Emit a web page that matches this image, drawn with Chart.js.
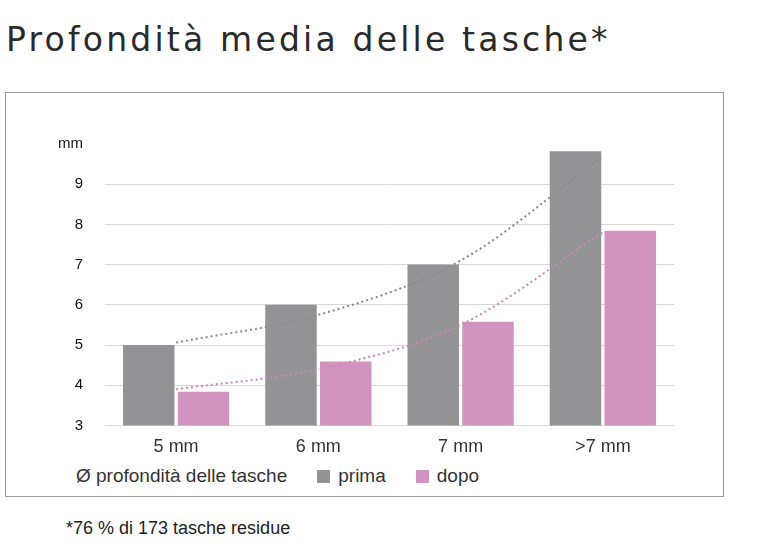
<!DOCTYPE html>
<html lang="it">
<head>
<meta charset="UTF-8" />
<title>Profondità media delle tasche</title>
<script src="https://cdn.jsdelivr.net/npm/chart.js"></script>
<style>
  body { margin: 0; width: 784px; height: 550px; background: #fff; font-family: "Liberation Sans", Arial, sans-serif; position: relative; }
  h1 { position: absolute; left: 6px; top: 20px; margin: 0; font-size: 33px; letter-spacing: 3.2px; color: #2a2a2a; font-family: "DejaVu Sans", sans-serif; font-weight: normal; }
  #box { position: absolute; left: 5px; top: 92px; width: 717px; height: 403px; border: 1px solid #999; }
  #wrap { position: absolute; left: 30px; top: 20px; width: 638px; height: 348px; }
  #legend { position: absolute; left: 70px; top: 372px; font-size: 19px; color: #333; }
  #legend span.sw { display: inline-block; width: 13px; height: 13px; margin: 0 8px 0 30px; vertical-align: -1px; }
  #note { position: absolute; left: 66px; top: 518px; font-size: 18px; color: #222; }
</style>
</head>
<body>
<h1>Profondità media delle tasche*</h1>
<div id="box">
  <div id="wrap"><canvas id="grafica"></canvas></div>
  <div id="legend">Ø profondità delle tasche<span class="sw" style="background:#939396"></span>prima<span class="sw" style="background:#d193bf"></span>dopo</div>
</div>
<div id="note">*76 % di 173 tasche residue</div>
<script>
  const categorie = ["5 mm", "6 mm", "7 mm", ">7 mm"];
  const prima = [5.0, 6.0, 7.0, 9.82];
  const dopo = [3.84, 4.59, 5.58, 7.84];
  const tendenzaPrima = [5.06, 5.75, 7.1, 9.7];
  const tendenzaDopo = [3.9, 4.4, 5.5, 7.8];
  const tickY = [3, 4, 5, 6, 7, 8, 9, 10];

  new Chart(document.getElementById("grafica"), {
    data: {
      labels: categorie,
      datasets: [
        { type: "line", data: tendenzaPrima, borderColor: "#8a8a8c", borderDash: [2, 3], borderWidth: 2, pointRadius: 0, cubicInterpolationMode: "monotone", order: 0 },
        { type: "line", data: tendenzaDopo, borderColor: "#cf86b8", borderDash: [2, 3], borderWidth: 2, pointRadius: 0, cubicInterpolationMode: "monotone", order: 0 },
        { type: "bar", label: "prima", data: prima, backgroundColor: "#939396", categoryPercentage: 0.77, barPercentage: 0.94, order: 1 },
        { type: "bar", label: "dopo", data: dopo, backgroundColor: "#d193bf", categoryPercentage: 0.77, barPercentage: 0.94, order: 1 }
      ]
    },
    options: {
      responsive: true,
      maintainAspectRatio: false,
      animation: false,
      layout: { padding: { top: 4 } },
      plugins: { legend: { display: false }, tooltip: { enabled: false } },
      scales: {
        x: {
          grid: { display: false },
          border: { display: false },
          ticks: { color: "#333", font: { size: 18 } }
        },
        y: {
          min: 3,
          max: 10,
          afterBuildTicks: (ax) => { ax.ticks = tickY.map((v) => ({ value: v })); },
          grid: { color: (c) => (c.tick && c.tick.value === 10 ? "transparent" : "#d8d8d8"), drawTicks: false },
          border: { display: false },
          ticks: { color: "#111", font: { size: 15 }, padding: 22, callback: (v) => (v === 10 ? "mm" : v) }
        }
      }
    }
  });
</script>
</body>
</html>
